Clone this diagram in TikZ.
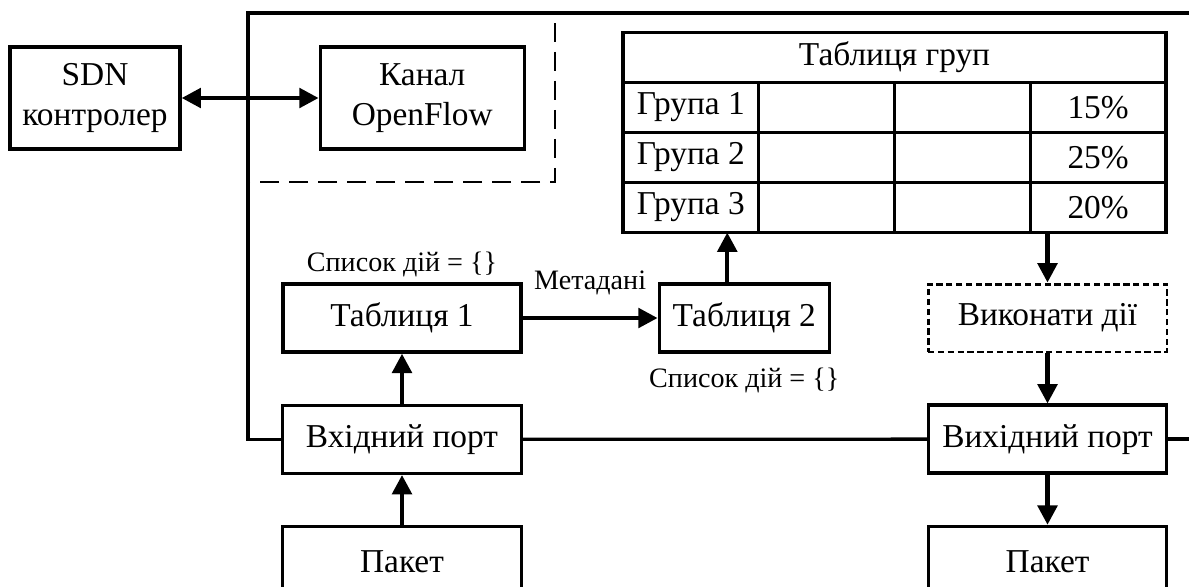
\documentclass[tikz,border=0pt]{standalone}
\usepackage{fontspec}
\setmainfont{Liberation Serif}
\usetikzlibrary{calc,positioning,arrows.meta}

\begin{document}
\begin{tikzpicture}[
  x=0.02cm, y=-0.02cm,
  every node/.append style={font=\fontsize{19}{23.2}\selectfont},
  block/.style={rectangle, draw, line width=1.9pt, minimum height=1.36cm, align=center, inner sep=2pt},
  dotblock/.style={block, line width=1.7pt, dash pattern=on 3.6pt off 2pt},
  cell/.style={rectangle, draw, line width=1.8pt, minimum width=2.715cm, minimum height=1cm,
    outer sep=0pt, inner sep=0pt},
  note/.style={font=\fontsize{16}{19}\selectfont, inner sep=3pt},
  arr/.style={-{Triangle[length=11pt,width=11pt]}, line width=2.5pt},
  biarr/.style={{Triangle[length=11pt,width=11pt]}-{Triangle[length=11pt,width=11pt]}, line width=2.5pt},
  frame/.style={line width=1.9pt},
  border/.style={line width=1.5pt, dash pattern=on 10.8pt off 5.7pt}
]
  \useasboundingbox (0,0) rectangle (1189,586);

  % controller and channel
  \node[block, minimum width=3.4cm, minimum height=2.04cm] (sdn) at (95,98) {SDN\\контролер};
  \node[block, minimum width=4.08cm, minimum height=2.04cm, right=2.74cm of sdn] (chan) {Канал\\OpenFlow};

  % pipeline
  \node[block, minimum width=4.76cm] (tab1) at (402,318) {Таблиця 1};
  \node[block, minimum width=3.4cm, right=2.7cm of tab1] (tab2) {Таблиця 2};
  \node[dotblock, minimum width=4.78cm] (vyk) at (1047.5,318) {Виконати дії};
  \node[block, minimum width=4.78cm, below=1cm of tab1] (inport) {Вхідний порт};
  \node[block, minimum width=4.76cm, below=1cm of vyk] (outport) {Вихідний порт};
  \node[block, minimum width=4.78cm, minimum height=1.4cm, below=1cm of inport] (pktin) {Пакет};
  \node[block, minimum width=4.76cm, minimum height=1.4cm, below=1cm of outport] (pktout) {Пакет};

  \node[note, above=0pt of tab1] (lst1) {Список дій = \{\}};
  \node[note, below=5pt of tab2] (lst2) {Список дій = \{\}};

  % group table
  \node[cell, minimum width=10.86cm] (hdr) at (894.5,57.5) {Таблиця груп};
  \foreach \r/\p in {1/15,2/25,3/20} {
    \node[cell, anchor=north west] (g\r a) at ($(hdr.south west)+(0,{(\r-1)*50})$) {Група \r};
    \node[cell, right=0pt of g\r a] (g\r b) {};
    \node[cell, right=0pt of g\r b] (g\r c) {};
    \node[cell, right=0pt of g\r c] (g\r d) {\p\%};
  }

  % switch frame
  \coordinate (ftl) at (248,13);
  \coordinate (ftr) at (1200,13);
  \coordinate (dtop) at (555,23);
  \coordinate (dbot) at (248,182);
  \draw[frame] (inport.west) -| (ftl) -- (ftr);
  \draw[frame] (inport.east) -- (outport.west);
  \draw[frame] (outport.east) -- (outport.east -| ftr);
  \draw[border] (dtop) |- (dbot);

  % connectors
  \coordinate (t2up) at ([xshift=-0.34cm]tab2.north);
  \draw[biarr] (sdn) -- (chan);
  \draw[arr] (tab1) -- node[note, above=9pt] (meta) {Метадані} (tab2);
  \draw[arr] (t2up) -- (t2up |- g3a.south);
  \draw[arr] (vyk.north |- g3d.south) -- (vyk.north);
  \draw[arr] (vyk) -- (outport);
  \draw[arr] (outport) -- (pktout);
  \draw[arr] (pktin) -- (inport);
  \draw[arr] (inport) -- (tab1);
\end{tikzpicture}
\end{document}
